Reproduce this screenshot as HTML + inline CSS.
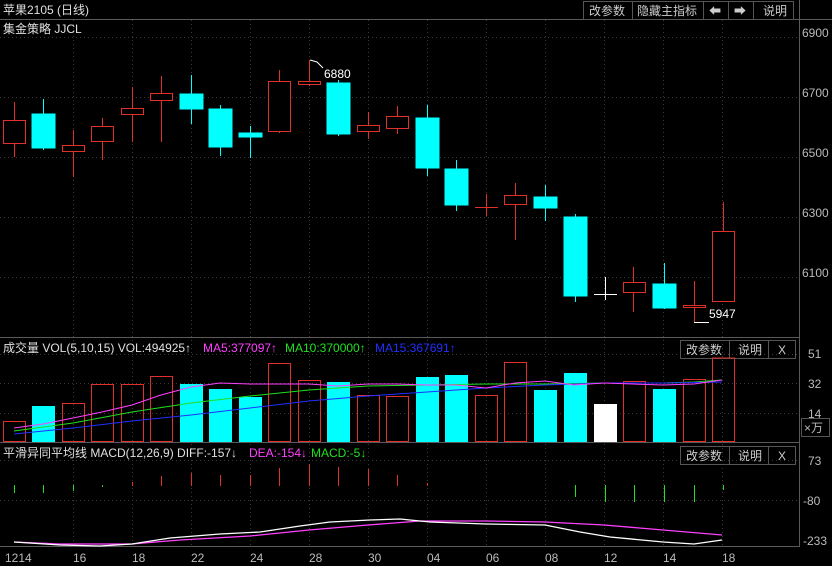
<!DOCTYPE html>
<html><head><meta charset="utf-8"><style>
body{margin:0;background:#000;width:832px;height:566px;overflow:hidden}
svg{display:block}
text{font-family:"Liberation Sans","Noto Sans CJK SC",sans-serif;font-size:12px}
</style></head><body>
<svg width="832" height="566" xmlns="http://www.w3.org/2000/svg">
<rect width="832" height="566" fill="#000"/>
<!-- frame lines -->
<g stroke="#5a5a5a" stroke-width="1" fill="none">
<line x1="0" y1="19.5" x2="832" y2="19.5"/>
<line x1="799.5" y1="0" x2="799.5" y2="547"/>
<line x1="0" y1="337.5" x2="800" y2="337.5"/>
<line x1="0" y1="442.5" x2="800" y2="442.5"/>
<line x1="0" y1="546.5" x2="800" y2="546.5"/>
</g>
<!-- grid -->
<g stroke="#3a3a3a" stroke-dasharray="1,3" fill="none">
<line x1="0" y1="37.5" x2="799" y2="37.5"/><line x1="0" y1="97.5" x2="799" y2="97.5"/>
<line x1="0" y1="157.5" x2="799" y2="157.5"/><line x1="0" y1="217.5" x2="799" y2="217.5"/>
<line x1="0" y1="277.5" x2="799" y2="277.5"/>
<line x1="0" y1="354.5" x2="799" y2="354.5"/><line x1="0" y1="383.5" x2="799" y2="383.5"/><line x1="0" y1="413.5" x2="799" y2="413.5"/>
<line x1="0" y1="460.5" x2="799" y2="460.5"/><line x1="0" y1="500.5" x2="799" y2="500.5"/>
<line x1="73.5" y1="20" x2="73.5" y2="546"/><line x1="132.5" y1="20" x2="132.5" y2="546"/><line x1="191.5" y1="20" x2="191.5" y2="546"/>
<line x1="250.5" y1="20" x2="250.5" y2="546"/><line x1="309.5" y1="20" x2="309.5" y2="546"/><line x1="368.5" y1="20" x2="368.5" y2="546"/>
<line x1="427.5" y1="20" x2="427.5" y2="546"/><line x1="486.5" y1="20" x2="486.5" y2="546"/><line x1="545.5" y1="20" x2="545.5" y2="546"/>
<line x1="604.5" y1="20" x2="604.5" y2="546"/><line x1="663.5" y1="20" x2="663.5" y2="546"/><line x1="722.5" y1="20" x2="722.5" y2="546"/>
</g>
<!-- header -->
<text x="3" y="14" fill="#e0e0e0">苹果2105 (日线)</text>
<text x="3" y="33" fill="#e0e0e0">集金策略 JJCL</text>
<g stroke="#555" fill="none"><rect x="583.5" y="1.5" width="210" height="18"/>
<line x1="632.5" y1="1" x2="632.5" y2="19"/><line x1="703.5" y1="1" x2="703.5" y2="19"/><line x1="728.5" y1="1" x2="728.5" y2="19"/><line x1="753.5" y1="1" x2="753.5" y2="19"/></g>
<text x="589" y="15" fill="#ccc">改参数</text><text x="637" y="15" fill="#ccc">隐藏主指标</text>
<text x="709" y="15" fill="#ccc">⬅</text><text x="734" y="15" fill="#ccc">➡</text><text x="763" y="15" fill="#ccc">说明</text>
<!-- right axis labels -->
<g fill="#bbb"><text x="802" y="37">6900</text><text x="802" y="97">6700</text><text x="802" y="157">6500</text><text x="802" y="217">6300</text><text x="802" y="277">6100</text>
<text x="808" y="358">51</text><text x="808" y="388">32</text><text x="808" y="418">14</text>
<text x="808" y="465">73</text><text x="803" y="505">-80</text><text x="803" y="545">-233</text></g>
<rect x="801.5" y="418.5" width="28" height="18" fill="none" stroke="#555"/><text x="804" y="432" fill="#bbb">×万</text>
<!-- candles -->
<g stroke="#e0302a" fill="none" stroke-width="1">
<line x1="14.5" y1="102" x2="14.5" y2="157"/><rect x="3.5" y="120.5" width="22" height="23" fill="#000"/>
<line x1="73.5" y1="130" x2="73.5" y2="177"/><rect x="62.5" y="145.5" width="22" height="6" fill="#000"/>
<line x1="102.5" y1="118" x2="102.5" y2="160"/><rect x="91.5" y="126.5" width="22" height="15" fill="#000"/>
<line x1="132.5" y1="87" x2="132.5" y2="142"/><rect x="121.5" y="108.5" width="22" height="6" fill="#000"/>
<line x1="161.5" y1="76" x2="161.5" y2="142"/><rect x="150.5" y="93.5" width="22" height="7" fill="#000"/>
<line x1="279.5" y1="70" x2="279.5" y2="133"/><rect x="268.5" y="81.5" width="22" height="50" fill="#000"/>
<line x1="309.5" y1="60" x2="309.5" y2="86"/><rect x="298.5" y="81.5" width="22" height="3" fill="#000"/>
<line x1="368.5" y1="112" x2="368.5" y2="139"/><rect x="357.5" y="125.5" width="22" height="6" fill="#000"/>
<line x1="397.5" y1="106" x2="397.5" y2="134"/><rect x="386.5" y="116.5" width="22" height="12" fill="#000"/>
<line x1="486.5" y1="194" x2="486.5" y2="216"/><line x1="475" y1="207.5" x2="498" y2="207.5"/>
<line x1="515.5" y1="183" x2="515.5" y2="240"/><rect x="504.5" y="195.5" width="22" height="9" fill="#000"/>
<line x1="633.5" y1="267" x2="633.5" y2="312"/><rect x="623.5" y="282.5" width="22" height="10" fill="#000"/>
<line x1="694.5" y1="281" x2="694.5" y2="322"/><rect x="683.5" y="305.5" width="22" height="2" fill="#000"/>
<line x1="723.5" y1="202" x2="723.5" y2="231"/><rect x="712.5" y="231.5" width="22" height="70" fill="#000"/>
</g>
<g stroke="#00ffff" fill="#00ffff">
<line x1="43.5" y1="99" x2="43.5" y2="150"/><rect x="32" y="114" width="23" height="34"/>
<line x1="191.5" y1="75" x2="191.5" y2="124"/><rect x="180" y="94" width="23" height="15"/>
<line x1="220.5" y1="105" x2="220.5" y2="156"/><rect x="209" y="109" width="23" height="38"/>
<line x1="250.5" y1="126" x2="250.5" y2="158"/><rect x="239" y="133" width="23" height="4"/>
<line x1="338.5" y1="80" x2="338.5" y2="136"/><rect x="327" y="83" width="23" height="51"/>
<line x1="427.5" y1="105" x2="427.5" y2="176"/><rect x="416" y="118" width="23" height="50"/>
<line x1="456.5" y1="160" x2="456.5" y2="211"/><rect x="445" y="169" width="23" height="36"/>
<line x1="545.5" y1="185" x2="545.5" y2="221"/><rect x="534" y="197" width="23" height="11"/>
<line x1="575.5" y1="214" x2="575.5" y2="302"/><rect x="564" y="217" width="23" height="79"/>
<line x1="664.5" y1="263" x2="664.5" y2="309"/><rect x="653" y="284" width="23" height="24"/>
</g>
<g stroke="#fff"><line x1="605.5" y1="277" x2="605.5" y2="300"/><line x1="594" y1="294.5" x2="617" y2="294.5"/>
<line x1="694" y1="322.5" x2="709" y2="322.5"/><polyline points="310,60 317,62 323,68" fill="none"/></g>
<text x="324" y="78" fill="#fff">6880</text><text x="709" y="318" fill="#fff">5947</text>
<!-- volume header -->
<text x="3" y="352" fill="#e0e0e0">成交量 VOL(5,10,15) VOL:494925↑</text>
<text x="203" y="352" fill="#ff40ff">MA5:377097↑</text><text x="285" y="352" fill="#20e020">MA10:370000↑</text><text x="375" y="352" fill="#2030ff">MA15:367691↑</text>
<g stroke="#555" fill="none"><rect x="680.5" y="340.5" width="115" height="18"/><line x1="729.5" y1="340" x2="729.5" y2="358"/><line x1="768.5" y1="340" x2="768.5" y2="358"/></g>
<text x="686" y="354" fill="#ccc">改参数</text><text x="738" y="354" fill="#ccc">说明</text><text x="778" y="354" fill="#ccc">X</text>
<text x="686" y="460" fill="#ccc">改参数</text><text x="738" y="460" fill="#ccc">说明</text><text x="778" y="460" fill="#ccc">X</text>
<g stroke="#555" fill="none"><rect x="680.5" y="446.5" width="115" height="18"/><line x1="729.5" y1="446" x2="729.5" y2="464"/><line x1="768.5" y1="446" x2="768.5" y2="464"/></g>
<!-- volume bars -->
<g stroke="#e0302a" fill="none">
<rect x="3.5" y="421.5" width="22" height="20"/><rect x="62.5" y="403.5" width="22" height="38"/><rect x="91.5" y="384.5" width="22" height="57"/>
<rect x="121.5" y="384.5" width="22" height="57"/><rect x="150.5" y="376.5" width="22" height="65"/><rect x="268.5" y="363.5" width="22" height="78"/>
<rect x="298.5" y="380.5" width="22" height="61"/><rect x="357.5" y="395.5" width="22" height="46"/><rect x="386.5" y="396.5" width="22" height="45"/>
<rect x="475.5" y="395.5" width="22" height="46"/><rect x="504.5" y="362.5" width="22" height="79"/><rect x="623.5" y="381.5" width="22" height="60"/>
<rect x="683.5" y="379.5" width="22" height="62"/><rect x="712.5" y="358" width="22" height="83.5"/>
</g>
<g fill="#00ffff">
<rect x="32" y="406" width="23" height="36"/><rect x="180" y="384" width="23" height="58"/><rect x="209" y="389" width="23" height="53"/>
<rect x="239" y="397" width="23" height="45"/><rect x="327" y="382" width="23" height="60"/><rect x="416" y="377" width="23" height="65"/>
<rect x="445" y="375" width="23" height="67"/><rect x="534" y="390" width="23" height="52"/><rect x="564" y="373" width="23" height="69"/>
<rect x="653" y="389" width="23" height="53"/></g>
<rect x="594" y="404" width="23" height="38" fill="#fff"/>
<polyline fill="none" stroke="#20e020" points="14,431 73,423 132,412 191,403 250,396 309,390 338,388 368,386 427,385 486,384 545,384 604,383 663,383 694,382 722,380"/>
<polyline fill="none" stroke="#2030ff" points="14,434 73,428 132,421 191,415 250,408 309,401 368,396 427,392 486,388 545,385 604,383 663,383 722,382"/>
<polyline fill="none" stroke="#ff40ff" points="14,428 43,424 73,418 102,412 132,405 161,395 191,387 220,383 250,384 279,384 309,384 338,386 368,384 397,384 427,385 456,385 486,388 515,383 545,381 574,385 604,383 633,384 663,385 694,384 722,380"/>
<!-- MACD header -->
<text x="3" y="457" fill="#e0e0e0">平滑异同平均线 MACD(12,26,9) DIFF:-157↓</text>
<text x="249" y="457" fill="#ff40ff">DEA:-154↓</text><text x="311" y="457" fill="#20e020">MACD:-5↓</text>
<g stroke="#20e020"><line x1="14.5" y1="485" x2="14.5" y2="493"/><line x1="43.5" y1="485" x2="43.5" y2="493"/><line x1="73.5" y1="485" x2="73.5" y2="491"/><line x1="102.5" y1="485" x2="102.5" y2="487"/>
<line x1="575.5" y1="485" x2="575.5" y2="497"/><line x1="605.5" y1="485" x2="605.5" y2="502"/><line x1="634.5" y1="485" x2="634.5" y2="502"/><line x1="664.5" y1="485" x2="664.5" y2="502"/><line x1="694.5" y1="485" x2="694.5" y2="502"/><line x1="723.5" y1="485" x2="723.5" y2="490"/></g>
<g stroke="#e0302a"><line x1="132.5" y1="482" x2="132.5" y2="486"/><line x1="161.5" y1="476" x2="161.5" y2="486"/><line x1="191.5" y1="473" x2="191.5" y2="486"/><line x1="220.5" y1="475" x2="220.5" y2="486"/>
<line x1="250.5" y1="475" x2="250.5" y2="486"/><line x1="279.5" y1="468" x2="279.5" y2="486"/><line x1="309.5" y1="464" x2="309.5" y2="486"/><line x1="338.5" y1="467" x2="338.5" y2="486"/><line x1="368.5" y1="469" x2="368.5" y2="486"/><line x1="397.5" y1="475" x2="397.5" y2="486"/><line x1="427.5" y1="483" x2="427.5" y2="486"/></g>
<polyline fill="none" stroke="#ff40ff" stroke-width="1.3" points="14,542 60,544 100,544 132,544 180,540 250,536 309,530 368,525 420,521 486,521 545,522 604,525 663,530 722,535"/>
<polyline fill="none" stroke="#fff" stroke-width="1.3" points="14,542 60,545 100,546 132,544 170,538 220,534 260,532 300,526 330,522 370,520 400,519 430,522 486,524 545,525 580,532 610,537 663,542 694,544 722,540"/>
<!-- x axis -->
<g fill="#bbb"><text x="5" y="562">1214</text><text x="73" y="562">16</text><text x="132" y="562">18</text><text x="191" y="562">22</text><text x="250" y="562">24</text><text x="309" y="562">28</text>
<text x="368" y="562">30</text><text x="427" y="562">04</text><text x="486" y="562">06</text><text x="545" y="562">08</text><text x="604" y="562">12</text><text x="663" y="562">14</text><text x="722" y="562">18</text></g>
</svg>
</body></html>
